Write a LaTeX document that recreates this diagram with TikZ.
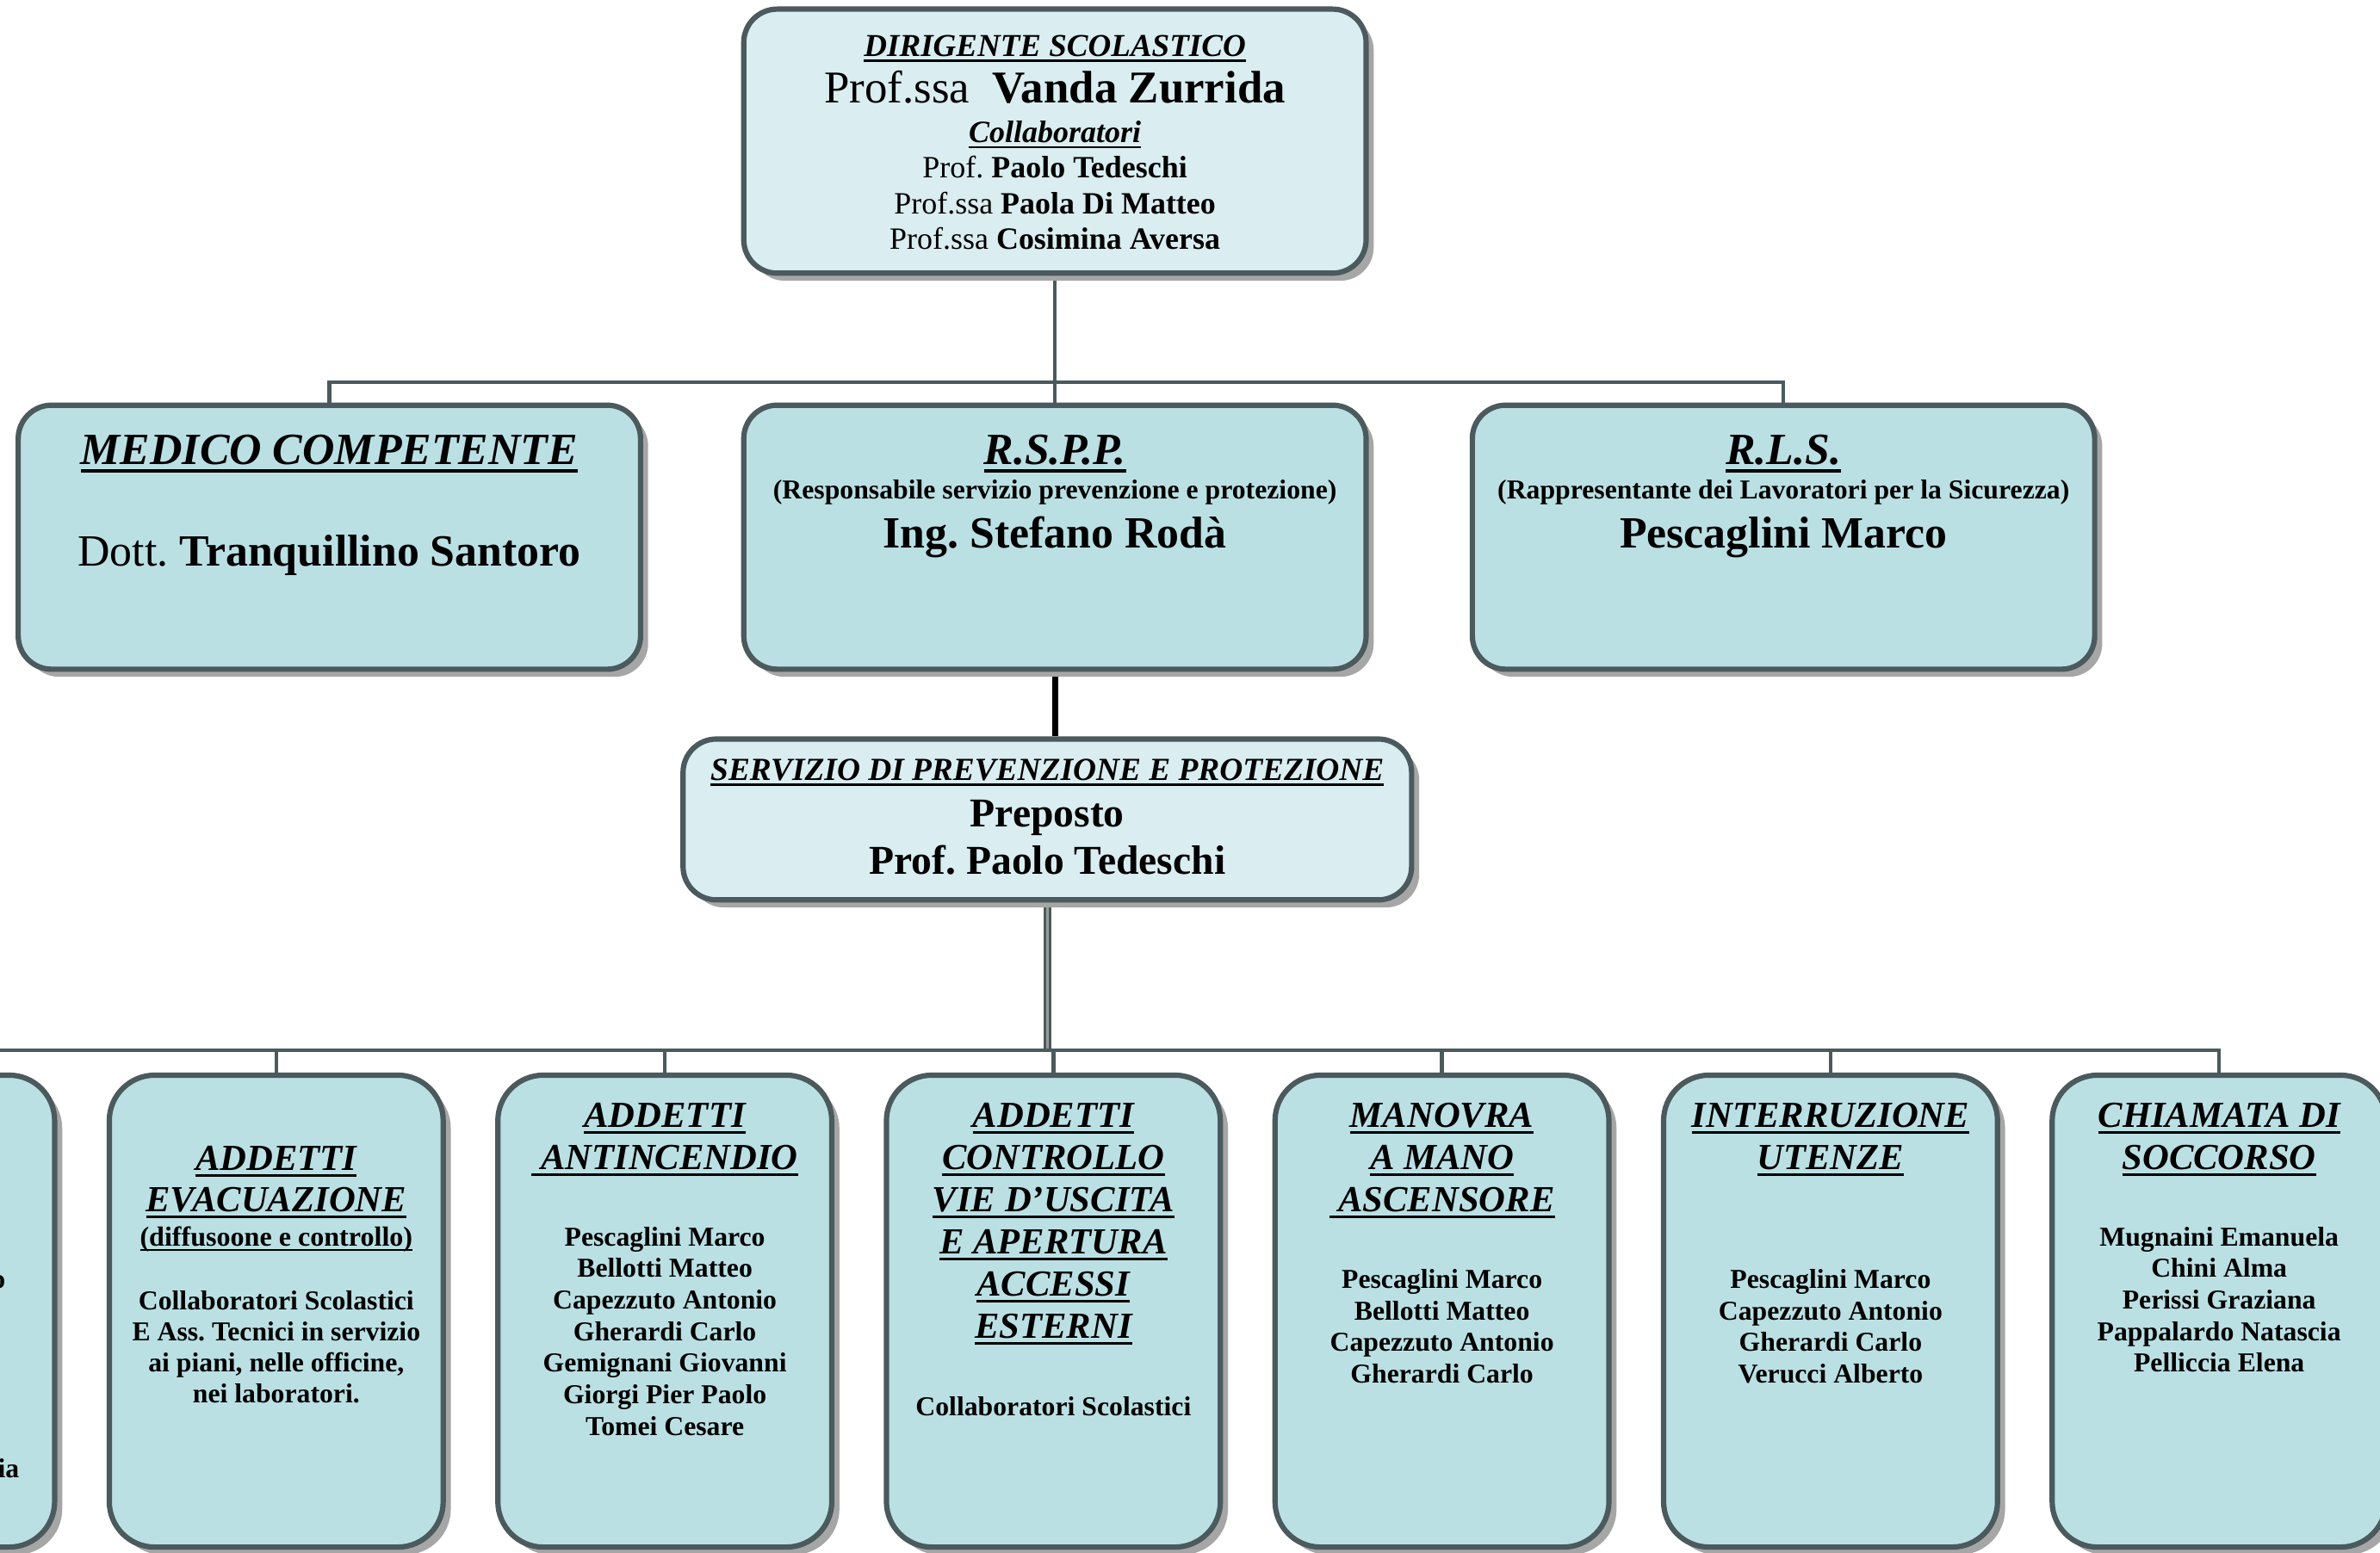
\documentclass[tikz,border=0pt]{standalone}
\usepackage{fontspec}
\setmainfont{Liberation Serif}
\usetikzlibrary{shadows,backgrounds}
\definecolor{boxline}{RGB}{75,90,92}
\definecolor{palecyan}{RGB}{218,237,240}
\definecolor{boxfill}{RGB}{187,224,228}
\newsavebox{\ulbox}
\newcommand{\ulbar}[1]{\sbox{\ulbox}{#1}\rlap{\rule[-0.18em]{\wd\ulbox}{0.07em}}\usebox{\ulbox}}
\newcommand{\hd}[1]{\textbf{\textit{\ulbar{#1}}}}
\frenchspacing
\begin{document}
\begin{tikzpicture}[x=0.5pt,y=-0.5pt,
	box/.style={draw=boxline,line width=1.75pt,rounded corners=11pt,fill=boxfill,
		drop shadow={shadow xshift=2.5pt,shadow yshift=-2.5pt,fill=black!35,opacity=1},
		minimum width=205pt,minimum height=87pt,inner sep=0pt},
	pale/.style={fill=palecyan},
	task/.style={box,rounded corners=15pt,minimum width=110pt,minimum height=155.5pt},
	conn/.style={draw=boxline,line width=1.25pt},
	txt/.style={anchor=base,inner sep=0pt},
	big/.style={txt,font=\fontsize{14.7}{17}\selectfont},
	bhd/.style={txt,font=\fontsize{12.1}{14}\selectfont},
	small/.style={txt,font=\fontsize{9}{10}\selectfont\bfseries}]
	\useasboundingbox (0,0) rectangle (1568,1023);
	% boxes
	\node[box,pale] (dirigente) at (695,93) {};
	\node[box] (medico) at (217,354) {};
	\node[box] (rspp) at (695,354) {};
	\node[box] (rls) at (1175,354) {};
	\node[box,pale,minimum width=240pt,minimum height=53pt] (spp) at (690,540) {};
	\node[task] (primo) at (-74,864) {};
	\node[task] (evac) at (182,864) {};
	\node[task] (antinc) at (438,864) {};
	\node[task] (vie) at (694,864) {};
	\node[task] (ascens) at (950,864) {};
	\node[task] (utenze) at (1206,864) {};
	\node[task] (soccorso) at (1462,864) {};
	% connectors
	\begin{scope}[on background layer]
	\coordinate (bus1) at (695,252);
	\coordinate (bus2) at (690,692);
	\draw[conn] (dirigente.south) -- (bus1);
	\draw[conn] (medico.north) |- (bus1) -| (rls.north);
	\draw[conn] (bus1) -- (rspp.north);
	\draw[line width=2pt] (rspp.south) -- (rspp.south |- spp.north);
	\draw[conn,double=black!40,double distance=0.8pt,line width=0.9pt] (spp.south) -- (bus2);
	\draw[conn] (primo.north) |- (bus2) -| (soccorso.north);
	\foreach \b in {evac,antinc,vie,ascens,utenze}
		\draw[conn] (\b.north) -- (\b.north |- bus2);
	\end{scope}
	% dirigente
	\node[txt,font=\fontsize{10.5}{12}\selectfont] (dtitle) at (695,37) {\hd{DIRIGENTE SCOLASTICO}};
	\node[txt,font=\fontsize{15}{17}\selectfont] (dname) at (695,68) {Prof.ssa\ \ \textbf{Vanda Zurrida}};
	\node[txt,font=\fontsize{10.2}{12}\selectfont] (dcoll) at (695,94) {\hd{Collaboratori}};
	\foreach \t [count=\i] in {Prof. \textbf{Paolo Tedeschi},Prof.ssa \textbf{Paola Di Matteo},Prof.ssa \textbf{Cosimina Aversa}}
		\node[txt,font=\fontsize{10.2}{12}\selectfont] (dc\i) at (695,{94+23.4*\i}) {\t};
	% medico, rspp, rls
	\node[big] (mtitle) at (217,306) {\hd{MEDICO COMPETENTE}};
	\node[big] (mname) at (217,373) {Dott. \textbf{Tranquillino Santoro}};
	\node[big] (rtitle) at (695,306) {\hd{R.S.P.P.}};
	\node[small] (rsub) at (695,329) {(Responsabile servizio prevenzione e protezione)};
	\node[big,font=\fontsize{14.7}{17}\selectfont\bfseries] (rname) at (695,361) {Ing. Stefano Rodà};
	\node[big] (ltitle) at (1175,306) {\hd{R.L.S.}};
	\node[small] (lsub) at (1175,329) {(Rappresentante dei Lavoratori per la Sicurezza)};
	\node[big,font=\fontsize{14.7}{17}\selectfont\bfseries] (lname) at (1175,361) {Pescaglini Marco};
	% servizio
	\node[txt,font=\fontsize{10.6}{12}\selectfont] (stitle) at (690,514) {\hd{SERVIZIO DI PREVENZIONE E PROTEZIONE}};
	\node[txt,font=\fontsize{13.5}{15}\selectfont\bfseries] (srole) at (690,545) {Preposto};
	\node[txt,font=\fontsize{13.5}{15}\selectfont\bfseries] (sname) at (690,576) {Prof. Paolo Tedeschi};
	% partial box on the left
	\node[small,anchor=base east] (p1) at (4,849) {o};
	\node[small,anchor=base east] (p2) at (13,974) {ia};
	% evacuazione
	\foreach \t [count=\i from 0] in {ADDETTI,EVACUAZIONE}
		\node[bhd] (eh\i) at (182,{771+27.5*\i}) {\hd{\t}};
	\node[small,font=\fontsize{9.1}{10}\selectfont\bfseries] (esub) at (182,821) {\ulbar{(diffusoone e controllo)}};
	\foreach \t [count=\i from 0] in {Collaboratori Scolastici,E Ass. Tecnici in servizio,{ai piani, nelle officine,},nei laboratori.}
		\node[small] (et\i) at (182,{863+20.5*\i}) {\t};
	% antincendio
	\foreach \t [count=\i from 0] in {ADDETTI,~ANTINCENDIO}
		\node[bhd] (ah\i) at (438,{743+27.8*\i}) {\hd{\t}};
	\foreach \t [count=\i from 0] in {Pescaglini Marco,Bellotti Matteo,Capezzuto Antonio,Gherardi Carlo,Gemignani Giovanni,Giorgi Pier Paolo,Tomei Cesare}
		\node[small] (at\i) at (438,{821+20.8*\i}) {\t};
	% vie d'uscita
	\foreach \t [count=\i from 0] in {ADDETTI,CONTROLLO,VIE D’USCITA,E APERTURA,ACCESSI,ESTERNI}
		\node[bhd] (vh\i) at (694,{743+27.8*\i}) {\hd{\t}};
	\node[small] (vt) at (694,933) {Collaboratori Scolastici};
	% ascensore
	\foreach \t [count=\i from 0] in {MANOVRA,A MANO,~ASCENSORE}
		\node[bhd] (mh\i) at (950,{743+27.8*\i}) {\hd{\t}};
	\foreach \t [count=\i from 0] in {Pescaglini Marco,Bellotti Matteo,Capezzuto Antonio,Gherardi Carlo}
		\node[small] (mt\i) at (950,{849+20.7*\i}) {\t};
	% utenze
	\foreach \t [count=\i from 0] in {INTERRUZIONE,UTENZE}
		\node[bhd] (uh\i) at (1206,{743+27.8*\i}) {\hd{\t}};
	\foreach \t [count=\i from 0] in {Pescaglini Marco,Capezzuto Antonio,Gherardi Carlo,Verucci Alberto}
		\node[small] (ut\i) at (1206,{849+20.8*\i}) {\t};
	% soccorso
	\foreach \t [count=\i from 0] in {CHIAMATA DI,SOCCORSO}
		\node[bhd] (ch\i) at (1462,{743+27.8*\i}) {\hd{\t}};
	\foreach \t [count=\i from 0] in {Mugnaini Emanuela,Chini Alma,Perissi Graziana,Pappalardo Natascia,Pelliccia Elena}
		\node[small] (ct\i) at (1462,{821+20.8*\i}) {\t};
\end{tikzpicture}
\end{document}
